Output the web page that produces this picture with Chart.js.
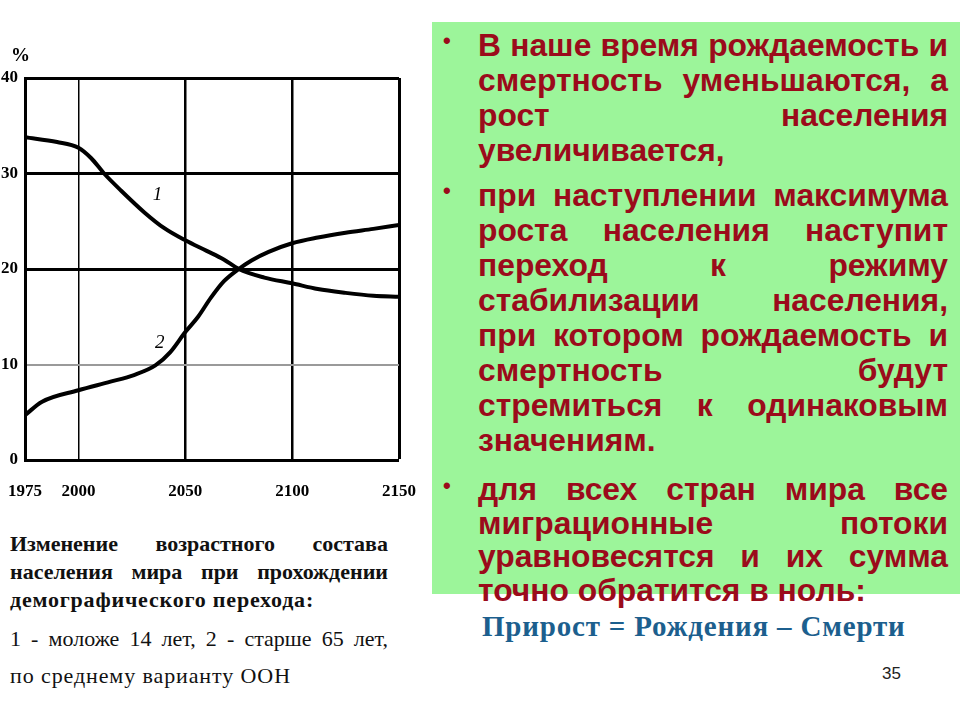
<!DOCTYPE html>
<html>
<head>
<meta charset="utf-8">
<script src="https://cdn.jsdelivr.net/npm/chart.js@4/dist/chart.umd.min.js"></script>
<style>
  html, body { margin: 0; padding: 0; background: #fff; }
  body { width: 960px; height: 720px; position: relative; overflow: hidden; }
  #chartWrap { position: absolute; left: 0; top: 0; width: 432px; height: 510px; }
  #pct { position: absolute; left: 11px; top: 44px; font: bold 19px 'Liberation Serif', serif; color: #000; }
  #green { position: absolute; left: 432px; top: 22px; width: 528px; height: 572px; background: #9cf59a; }
  #txt { position: absolute; left: 478px; top: 28px; width: 470px; font: bold 31.8px 'Liberation Sans', Arial, sans-serif; color: #9b0b1b; }
  #txt .p { position: relative; }
  #txt .l { line-height: 35px; height: 35px; white-space: nowrap; }
  #txt .j { text-align: justify; text-align-last: justify; white-space: normal; }
  #txt .b { position: absolute; left: -35px; top: 2px; font-size: 22px; line-height: 22px; }
  #cap { position: absolute; left: 10px; top: 530px; width: 378px; font-family: 'Liberation Serif', 'Times New Roman', serif; color: #111; }
  #cap .bl { font-weight: bold; font-size: 22px; letter-spacing: 0.8px; line-height: 28px; height: 28px; }
  #cap .nl { font-size: 22px; letter-spacing: 0.9px; line-height: 37px; height: 37px; }
  #cap .j { text-align: justify; text-align-last: justify; letter-spacing: 0; }
  #formula { position: absolute; left: 482px; top: 610px; font: bold 29px 'Liberation Serif', 'Times New Roman', serif; letter-spacing: 0.8px; color: #1c5f8e; white-space: nowrap; }
  #page { position: absolute; left: 882px; top: 664px; font: 17px 'Liberation Sans', Arial, sans-serif; color: #222; }
</style>
</head>
<body>
<div id="chartWrap"><canvas id="c" width="432" height="510"></canvas></div>
<div id="pct">%</div>

<div id="green"></div>
<div id="txt">
  <div class="p">
    <span class="b">•</span>
    <div class="l j">В наше время рождаемость и</div>
    <div class="l j">смертность уменьшаются, а</div>
    <div class="l j">рост населения</div>
    <div class="l">увеличивается,</div>
  </div>
  <div class="p" style="margin-top:10px">
    <span class="b">•</span>
    <div class="l j">при наступлении максимума</div>
    <div class="l j">роста населения наступит</div>
    <div class="l j">переход к режиму</div>
    <div class="l j">стабилизации населения,</div>
    <div class="l j">при котором рождаемость и</div>
    <div class="l j">смертность будут</div>
    <div class="l j">стремиться к одинаковым</div>
    <div class="l">значениям.</div>
  </div>
  <div class="p" style="margin-top:15px">
    <span class="b">•</span>
    <div class="l j" style="line-height:33.5px;height:33.5px">для всех стран мира все</div>
    <div class="l j" style="line-height:33.5px;height:33.5px">миграционные потоки</div>
    <div class="l j" style="line-height:33.5px;height:33.5px">уравновесятся и их сумма</div>
    <div class="l" style="line-height:33.5px;height:33.5px">точно обратится в ноль:</div>
  </div>
</div>

<div id="cap">
  <div class="bl j">Изменение возрастного состава</div>
  <div class="bl j">населения мира при прохождении</div>
  <div class="bl">демографического перехода:</div>
  <div class="nl j" style="margin-top:6px">1 - моложе 14 лет, 2 - старше 65 лет,</div>
  <div class="nl">по среднему варианту ООН</div>
</div>

<div id="formula">Прирост = Рождения – Смерти</div>
<div id="page">35</div>

<script>
// ---- data ----
const xTicks = [1975, 2000, 2050, 2100, 2150];
const yTicks = [0, 10, 20, 30, 40];

const years1  = [1975, 1990, 2000, 2006, 2012, 2020, 2031, 2040, 2050, 2060, 2068, 2075, 2087, 2100, 2112, 2125, 2138, 2150];
const values1 = [33.8, 33.3, 32.7, 31.6, 30.0, 28.2, 25.9, 24.3, 23.0, 21.9, 21.0, 20.0, 19.1, 18.5, 17.9, 17.5, 17.2, 17.1];

const years2  = [1975, 1983, 2000, 2015, 2026, 2036, 2043, 2050, 2056, 2062, 2068, 2075, 2081, 2089, 2100, 2112, 2125, 2138, 2150];
const values2 = [4.7, 6.1, 7.3, 8.2, 8.9, 9.9, 11.3, 13.4, 15.0, 17.0, 18.7, 20.0, 20.9, 21.8, 22.7, 23.3, 23.8, 24.2, 24.6];

const curveLabels = ['1', '2'];
const curveLabelYears = [2037, 2038];
const curveLabelValues = [27.7, 12.3];

const toPts = (xs, ys) => xs.map((x, i) => ({ x: x, y: ys[i] }));

const tickFont = { family: "'Liberation Serif', serif", size: 17, weight: 'bold' };

const labelPlugin = {
  id: 'curveLabels',
  afterDatasetsDraw(chart) {
    const { ctx, scales } = chart;
    ctx.save();
    ctx.font = "italic 19px 'Liberation Serif', serif";
    ctx.fillStyle = '#000';
    ctx.textAlign = 'center';
    ctx.textBaseline = 'middle';
    curveLabels.forEach((t, i) => {
      ctx.fillText(t, scales.x.getPixelForValue(curveLabelYears[i]), scales.y.getPixelForValue(curveLabelValues[i]));
    });
    ctx.restore();
  }
};

new Chart(document.getElementById('c'), {
  type: 'line',
  data: {
    datasets: [
      { label: '1 - моложе 14 лет', data: toPts(years1, values1), borderColor: '#000', borderWidth: 4,
        pointRadius: 0, cubicInterpolationMode: 'monotone', fill: false },
      { label: '2 - старше 65 лет', data: toPts(years2, values2), borderColor: '#000', borderWidth: 4,
        pointRadius: 0, cubicInterpolationMode: 'monotone', fill: false }
    ]
  },
  options: {
    responsive: false,
    animation: false,
    layout: { padding: { top: 78, right: 33, left: 0, bottom: 0 } },
    plugins: { legend: { display: false }, tooltip: { enabled: false } },
    scales: {
      x: {
        type: 'linear', min: 1975, max: 2150,
        afterBuildTicks: s => { s.ticks = xTicks.map(v => ({ value: v })); },
        afterFit: s => { s.height = 50; },
        ticks: { callback: v => String(v), font: tickFont, color: '#000', padding: 2, maxRotation: 0, autoSkip: false },
        grid: {
          drawTicks: true,
          tickLength: 19,
          tickColor: 'rgba(0,0,0,0)',
          color: '#000',
          lineWidth: c => {
            const v = c.tick && c.tick.value;
            if (v === 2000) return 1.5;
            if (v === 1975) return 0;
            if (v === 2150) return 3;
            return 2.5;
          }
        },
        border: { display: true, width: 3, color: '#000' }
      },
      y: {
        min: 0, max: 40,
        afterBuildTicks: s => { s.ticks = yTicks.map(v => ({ value: v })); },
        afterFit: s => { s.width = 25; },
        ticks: { font: tickFont, color: '#000', padding: 7 },
        grid: {
          drawTicks: false,
          color: c => (c.tick && c.tick.value === 10) ? '#9a9a9a' : '#000',
          lineWidth: c => {
            const v = c.tick && c.tick.value;
            if (v === 0) return 0;
            if (v === 10) return 2;
            return 3;
          }
        },
        border: { display: true, width: 3, color: '#000' }
      }
    }
  },
  plugins: [labelPlugin]
});
</script>
</body>
</html>
